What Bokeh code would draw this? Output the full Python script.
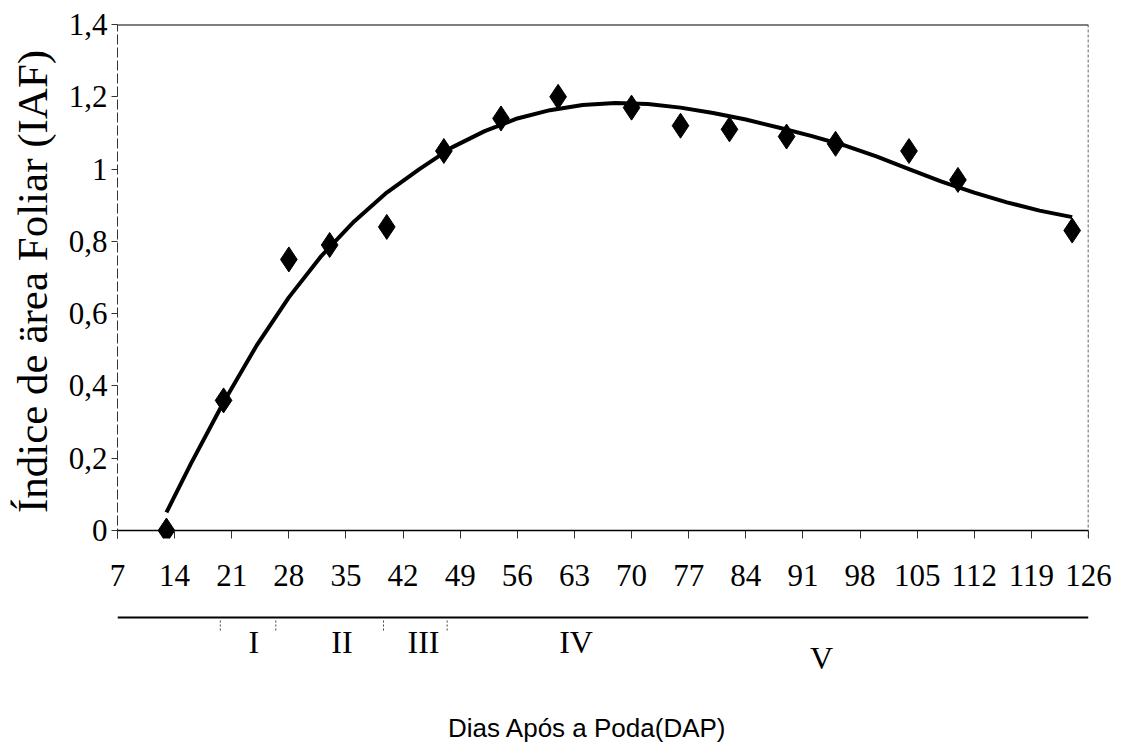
from bokeh.plotting import figure
from bokeh.models import Range1d, FixedTicker, Span
from bokeh.layouts import column
from bokeh.embed import file_html
from bokeh.resources import INLINE
from bokeh.core.properties import value

# Leaf area index measured on each sampling day (days after pruning)
days = [13, 20, 28, 33, 40, 47, 54, 61, 70, 76, 82, 89, 95, 104, 110, 124]
iaf = [0.0, 0.36, 0.75, 0.79, 0.84, 1.05, 1.14, 1.20, 1.17, 1.12, 1.11, 1.09,
       1.07, 1.05, 0.97, 0.83]

# Fitted trend line
trend_days = [13, 16, 20, 24, 28, 32, 36, 40, 44, 48, 52, 56, 60, 64, 68, 72,
              76, 80, 84, 88, 92, 96, 100, 104, 108, 112, 116, 120, 124]
trend_iaf = [0.05, 0.185, 0.355, 0.51, 0.645, 0.76, 0.855, 0.935, 1.0, 1.06,
             1.105, 1.14, 1.163, 1.177, 1.183, 1.18, 1.17, 1.155, 1.137, 1.115,
             1.092, 1.066, 1.035, 1.0, 0.965, 0.935, 0.908, 0.885, 0.867]

# Axis ticks
x_ticks = [7, 14, 21, 28, 35, 42, 49, 56, 63, 70, 77, 84, 91, 98, 105, 112, 119, 126]
x_tick_labels = [str(t) for t in x_ticks]
y_ticks = [0, 0.2, 0.4, 0.6, 0.8, 1, 1.2, 1.4]
y_tick_labels = ["0", "0,2", "0,4", "0,6", "0,8", "1", "1,2", "1,4"]

# Phenological phases along the time axis
phase_labels = ["I", "II", "III", "IV", "V"]
phase_label_days = [23.7, 34.5, 44.5, 63.2, 93.3]
phase_marks = [19.6, 26.4, 39.6, 47.4]

SERIF = "Liberation Serif"
SANS = "Liberation Sans"

# the value range dips a little below zero so the marker at zero is not cut
p = figure(width=1121, height=600,
           x_range=Range1d(7, 126), y_range=Range1d(-0.0221, 1.4),
           output_backend="svg", toolbar_location=None,
           min_border_left=117, min_border_right=33,
           min_border_top=24, min_border_bottom=62)
p.outline_line_color = None
p.grid.visible = False
p.background_fill_color = "white"
p.border_fill_color = "white"

# x axis: ticks reach up to the zero line, which is drawn as a span
xa = p.xaxis[0]
xa.ticker = FixedTicker(ticks=x_ticks)
xa.major_label_overrides = dict(zip(x_ticks, x_tick_labels))
xa.major_label_text_font = SERIF
xa.major_label_text_font_size = "31px"
xa.major_label_text_color = "black"
xa.major_label_standoff = 26
xa.major_tick_out = 0
xa.major_tick_in = 8
xa.minor_tick_out = 0
xa.minor_tick_in = 0
xa.axis_line_color = None
xa.major_tick_line_color = "#333333"
p.add_layout(Span(location=0, dimension="width", line_color="black", line_width=1.5))

# y axis
ya = p.yaxis[0]
ya.ticker = FixedTicker(ticks=y_ticks)
ya.major_label_overrides = dict(zip(y_ticks, y_tick_labels))
ya.major_label_text_font = SERIF
ya.major_label_text_font_size = "31px"
ya.major_label_text_color = "black"
ya.major_label_standoff = 4
ya.major_tick_out = 6
ya.major_tick_in = 0
ya.minor_tick_out = 0
ya.minor_tick_in = 0
ya.axis_line_color = "#333333"
ya.axis_line_dash = "10 3"
ya.major_tick_line_color = "#333333"
ya.axis_label = "Índice de ärea Foliar (IAF)"
ya.axis_label_text_font = SERIF
ya.axis_label_text_font_size = "43px"
ya.axis_label_text_font_style = "normal"
ya.axis_label_text_color = "black"
ya.axis_label_standoff = 10

# frame borders: solid top, dotted right
p.add_layout(Span(location=1.4, dimension="width", line_color="black", line_width=2))
p.add_layout(Span(location=126, dimension="height", line_color="#333333",
                  line_width=1.5, line_dash="3 2"))

# trend line and observations
p.line(trend_days, trend_iaf, line_color="black", line_width=4, line_join="round")
p.scatter(days, iaf, marker="diamond", size=25, fill_color="black", line_color="black")

# phase strip below the chart
q = figure(width=1121, height=156,
           x_range=p.x_range, y_range=Range1d(156, 0),
           output_backend="svg", toolbar_location=None,
           x_axis_location=None, y_axis_location=None,
           min_border_left=117, min_border_right=33,
           min_border_top=0, min_border_bottom=0)
q.outline_line_color = None
q.grid.visible = False

q.segment(x0=[x_ticks[0]], y0=[17], x1=[x_ticks[-1]], y1=[17],
          line_color="black", line_width=2)
q.segment(x0=phase_marks, y0=[20] * len(phase_marks),
          x1=phase_marks, y1=[30] * len(phase_marks),
          line_color="#444444", line_width=1, line_dash="2 2")
q.text(x=phase_label_days, y=[41, 41, 41, 41, 57], text=phase_labels,
       text_font=value(SERIF), text_font_size="32px", text_color="black",
       text_align="center", text_baseline="middle")
q.text(x=[64.6], y=[127], text=["Dias Após a Poda(DAP)"],
       text_font=value(SANS), text_font_size="26px", text_color="black",
       text_align="center", text_baseline="middle")

layout = column(p, q, spacing=0)
open("out.html", "w").write(file_html(layout, INLINE))
